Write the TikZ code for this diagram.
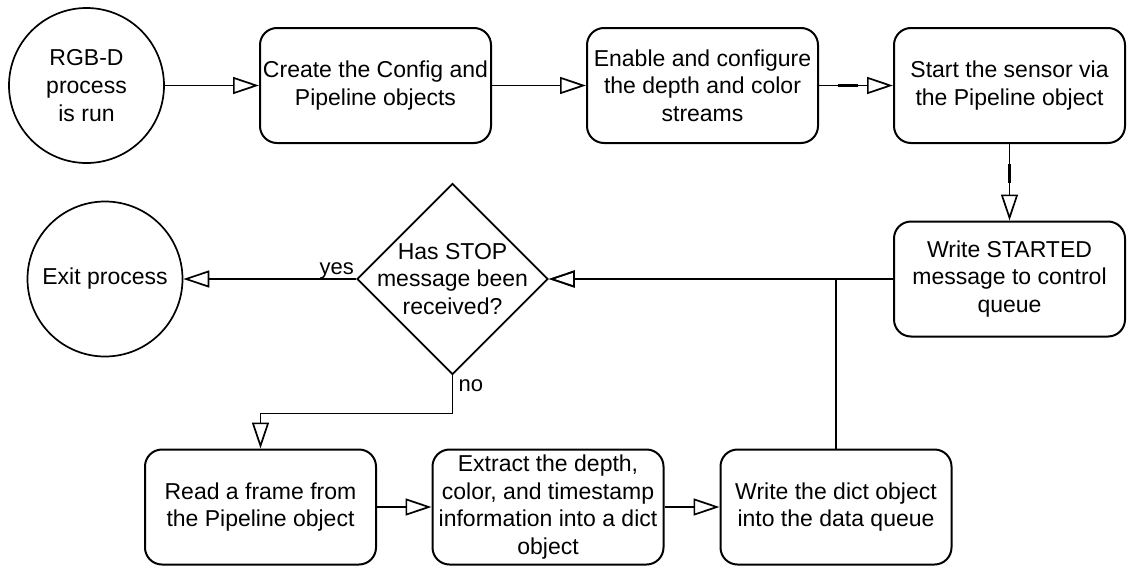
\documentclass[tikz,border=0pt]{standalone}
\usepackage{fontspec}
\setmainfont{Liberation Sans}
\usetikzlibrary{arrows.meta,shapes.geometric,calc}

\begin{document}
\begin{tikzpicture}[x=1pt,y=-1pt,
  every node/.style={font=\fontsize{23}{27.6}\selectfont, align=center, inner sep=0pt},
  stepbox/.style={draw, line width=2pt, rounded corners=17pt,
    minimum width=231pt, minimum height=115pt},
  terminal/.style={draw, circle, line width=1.7pt, minimum size=155pt},
  decision/.style={draw, diamond, line width=1.7pt, minimum width=191pt,
    minimum height=191pt},
  flow/.style={line width=1.7pt,
    -{Triangle[open, length=26pt, width=17pt, line width=1.7pt]}},
  thickbit/.style={line width=2.8pt},
  lbl/.style={font=\fontsize{22}{26}\selectfont}
]
\useasboundingbox (0,0) rectangle (1127,565);
\fill[white] (0,0) rectangle (1127,565);

% top row
\node[terminal] (start) at (86.5,85.5) {RGB-D\\process\\is run};
\node[stepbox] (cfg) at (375.5,85.5) {Create the Config and\\Pipeline objects};
\node[stepbox] (streams) at (702.5,85.5) {Enable and configure\\the depth and color\\streams};
\node[stepbox] (sensor) at (1009.5,85.5) {Start the sensor via\\the Pipeline object};

% middle row
\node[stepbox] (started) at (1009.5,279) {Write STARTED\\message to control\\queue};
\node[decision, label={center:{Has STOP\\message been\\received?}}] (stop) at (452.5,279) {};
\node[terminal] (exit) at (105,279) {Exit process};

% bottom row
\node[stepbox] (read) at (260.5,507) {Read a frame from\\the Pipeline object};
\node[stepbox] (extract) at (548,507) {Extract the depth,\\color, and timestamp\\information into a dict\\object};
\node[stepbox] (write) at (836,507) {Write the dict object\\into the data queue};

% connectors
\draw[flow] (start.east) -- (cfg.west);
\draw[flow] (cfg.east) -- (streams.west);
\draw[flow] (streams.east) -- (sensor.west);
\draw[thickbit] ($(streams.east)+(19,0)$) -- ++(20,0);
\draw[flow] (sensor.south) -- (started.north);
\draw[thickbit] ($(sensor.south)+(0,20)$) -- ++(0,19);
\draw[flow] (started.west) -- (stop.east);
\draw[flow] (write.north) |- (stop.east);
\draw[flow] (stop.west) -- (exit.east);
\node[lbl, anchor=south east] (yes) at ($(stop.west)+(-2,0)$) {yes};
\draw[flow] (stop.south) -- ++(0,38) -| (read.north);
\node[lbl, anchor=base west] (no) at ($(stop.south)+(6,16)$) {no};
\draw[flow] (read.east) -- (extract.west);
\draw[flow] (extract.east) -- (write.west);
\draw[thickbit] (extract.east) -- ++(30,0);
\end{tikzpicture}
\end{document}
